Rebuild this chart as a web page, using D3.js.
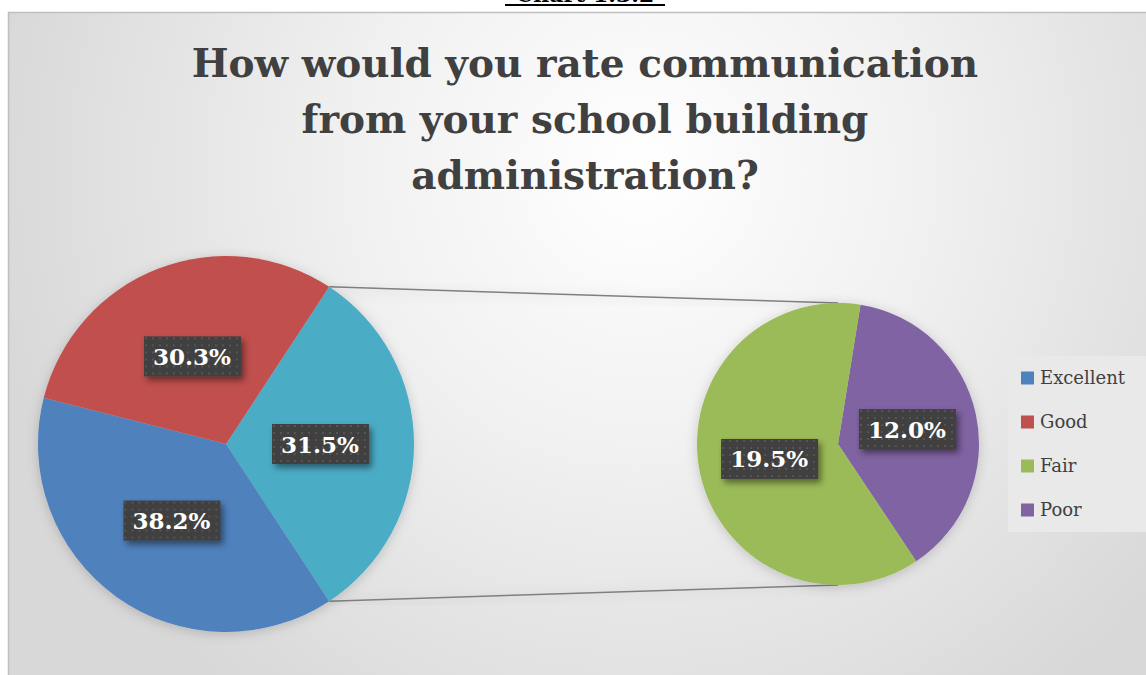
<!DOCTYPE html>
<html>
<head>
<meta charset="utf-8">
<script src="https://cdn.jsdelivr.net/npm/d3@7"></script>
<style>
  html, body { margin: 0; padding: 0; background: #fff; }
  svg { display: block; }
</style>
</head>
<body>
<div id="chart"></div>
<script>
var W = 1146, H = 675;

// data
var categories = ['Excellent', 'Good', 'Fair', 'Poor'];
var values = [38.2, 30.3, 19.5, 12.0];
var colors = ['#4f81bd', '#c0504d', '#9bbb59', '#8064a2'];
var otherLabel = 'Other';
var otherColor = '#4bacc6';
var titleLines = ['How would you rate communication', 'from your school building', 'administration?'];
var captionText = 'Chart 1.3.2';

// split: first two in main pie, last two go in the secondary pie
var mainData = [
  { name: otherLabel, value: values[2] + values[3], color: otherColor },
  { name: categories[0], value: values[0], color: colors[0] },
  { name: categories[1], value: values[1], color: colors[1] }
];
var subData = [
  { name: categories[3], value: values[3], color: colors[3] },
  { name: categories[2], value: values[2], color: colors[2] }
];

var svg = d3.select('#chart').append('svg')
  .attr('width', W)
  .attr('height', H);

var defs = svg.append('defs');

var bg = defs.append('radialGradient')
  .attr('id', 'bg')
  .attr('gradientUnits', 'userSpaceOnUse')
  .attr('cx', 640).attr('cy', 170).attr('r', 660);
bg.append('stop').attr('offset', '0%').attr('stop-color', '#ffffff');
bg.append('stop').attr('offset', '45%').attr('stop-color', '#f0f0f0');
bg.append('stop').attr('offset', '100%').attr('stop-color', '#d8d8d8');

var dots = defs.append('pattern')
  .attr('id', 'dots')
  .attr('patternUnits', 'userSpaceOnUse')
  .attr('width', 7).attr('height', 7);
dots.append('rect').attr('width', 7).attr('height', 7).attr('fill', '#3f3f3f');
dots.append('rect').attr('x', 2).attr('y', 2).attr('width', 2).attr('height', 2).attr('fill', '#555555');

var shadow = defs.append('filter').attr('id', 'shadow')
  .attr('x', '-30%').attr('y', '-30%').attr('width', '160%').attr('height', '160%');
shadow.append('feDropShadow')
  .attr('dx', 3).attr('dy', 4).attr('stdDeviation', 3)
  .attr('flood-color', '#000').attr('flood-opacity', 0.45);

var pieShadow = defs.append('filter').attr('id', 'pieShadow')
  .attr('x', '-20%').attr('y', '-20%').attr('width', '140%').attr('height', '140%');
pieShadow.append('feDropShadow')
  .attr('dx', 0).attr('dy', 2).attr('stdDeviation', 6)
  .attr('flood-color', '#000').attr('flood-opacity', 0.18);

// caption above the chart, clipped by the page edge
svg.append('text')
  .attr('x', 585).attr('y', 2)
  .attr('text-anchor', 'middle')
  .style('font-family', '"DejaVu Serif", serif')
  .style('font-weight', 'bold')
  .style('font-size', '22px')
  .attr('fill', '#000')
  .text(captionText);
svg.append('line')
  .attr('x1', 505).attr('x2', 665)
  .attr('y1', 5).attr('y2', 5)
  .attr('stroke', '#000').attr('stroke-width', 2);

// chart area
svg.append('rect')
  .attr('x', 8.5).attr('y', 12.5)
  .attr('width', W + 10).attr('height', H)
  .attr('fill', 'url(#bg)')
  .attr('stroke', '#bfbfbf').attr('stroke-width', 1.5);

// title
svg.append('text')
  .attr('text-anchor', 'middle')
  .style('font-family', '"DejaVu Serif", serif')
  .style('font-weight', 'bold')
  .style('font-size', '39px')
  .attr('fill', '#404040')
  .selectAll('tspan')
  .data(titleLines)
  .join('tspan')
  .attr('x', 585)
  .attr('y', function(d, i) { return 77 + i * 56; })
  .text(function(d) { return d; });

// main pie
var mainR = 188, mainCx = 226, mainCy = 444;
var otherAngle = 2 * Math.PI * mainData[0].value / d3.sum(mainData, function(d) { return d.value; });
var mainPie = d3.pie().sort(null).value(function(d) { return d.value; })
  .startAngle(Math.PI / 2 - otherAngle / 2)
  .endAngle(Math.PI / 2 - otherAngle / 2 + 2 * Math.PI);
var mainArc = d3.arc().innerRadius(0).outerRadius(mainR);
var mainArcs = mainPie(mainData);

// secondary pie
var subR = 141, subCx = 838, subCy = 444;
var subStart = 0.16;
var subPie = d3.pie().sort(null).value(function(d) { return d.value; })
  .startAngle(subStart).endAngle(subStart + 2 * Math.PI);
var subArc = d3.arc().innerRadius(0).outerRadius(subR);
var subArcs = subPie(subData);

// connector lines from the "other" slice to the secondary pie
var oa = mainArcs[0];
var lines = [
  [[mainCx + mainR * Math.sin(oa.startAngle), mainCy - mainR * Math.cos(oa.startAngle)], [subCx, subCy - subR]],
  [[mainCx + mainR * Math.sin(oa.endAngle), mainCy - mainR * Math.cos(oa.endAngle)], [subCx, subCy + subR]]
];
svg.append('g').selectAll('line')
  .data(lines)
  .join('line')
  .attr('x1', function(d) { return d[0][0]; })
  .attr('y1', function(d) { return d[0][1]; })
  .attr('x2', function(d) { return d[1][0]; })
  .attr('y2', function(d) { return d[1][1]; })
  .attr('stroke', '#7f7f7f')
  .attr('stroke-width', 1.5)
  .attr('filter', 'url(#pieShadow)');

var gMain = svg.append('g')
  .attr('transform', 'translate(' + mainCx + ',' + mainCy + ')')
  .attr('filter', 'url(#pieShadow)');
gMain.selectAll('path')
  .data(mainArcs)
  .join('path')
  .attr('d', mainArc)
  .attr('fill', function(d) { return d.data.color; });

var gSub = svg.append('g')
  .attr('transform', 'translate(' + subCx + ',' + subCy + ')')
  .attr('filter', 'url(#pieShadow)');
gSub.selectAll('path')
  .data(subArcs)
  .join('path')
  .attr('d', subArc)
  .attr('fill', function(d) { return d.data.color; });

// data labels
function addLabels(g, arcs, arcGen) {
  var lbl = g.selectAll('g.lbl')
    .data(arcs)
    .join('g')
    .attr('class', 'lbl')
    .attr('transform', function(d) {
      var c = arcGen.centroid(d);
      return 'translate(' + c[0] + ',' + c[1] + ')';
    });
  lbl.append('rect')
    .attr('x', -48).attr('y', -20)
    .attr('width', 97).attr('height', 40)
    .attr('fill', 'url(#dots)')
    .attr('filter', 'url(#shadow)');
  lbl.append('text')
    .attr('text-anchor', 'middle')
    .attr('dy', '0.37em')
    .style('font-family', '"DejaVu Serif", serif')
    .style('font-weight', 'bold')
    .style('font-size', '23px')
    .attr('fill', '#ffffff')
    .text(function(d) { return d.data.value.toFixed(1) + '%'; });
}
addLabels(svg.append('g').attr('transform', 'translate(' + mainCx + ',' + mainCy + ')'), mainArcs, mainArc);
addLabels(svg.append('g').attr('transform', 'translate(' + subCx + ',' + subCy + ')'), subArcs, subArc);

// legend
var legend = svg.append('g').attr('transform', 'translate(1008,356)');
legend.append('rect')
  .attr('width', 140).attr('height', 176)
  .attr('fill', '#e9e9e9');
var item = legend.selectAll('g.item')
  .data(categories)
  .join('g')
  .attr('class', 'item')
  .attr('transform', function(d, i) { return 'translate(13,' + (22 + i * 44) + ')'; });
item.append('rect')
  .attr('x', 0).attr('y', -6.5)
  .attr('width', 13).attr('height', 13)
  .attr('fill', function(d, i) { return colors[i]; });
item.append('text')
  .attr('x', 19)
  .attr('dy', '0.35em')
  .style('font-family', '"DejaVu Serif", serif')
  .style('font-size', '18px')
  .attr('fill', '#404040')
  .text(function(d) { return d; });
</script>
</body>
</html>
